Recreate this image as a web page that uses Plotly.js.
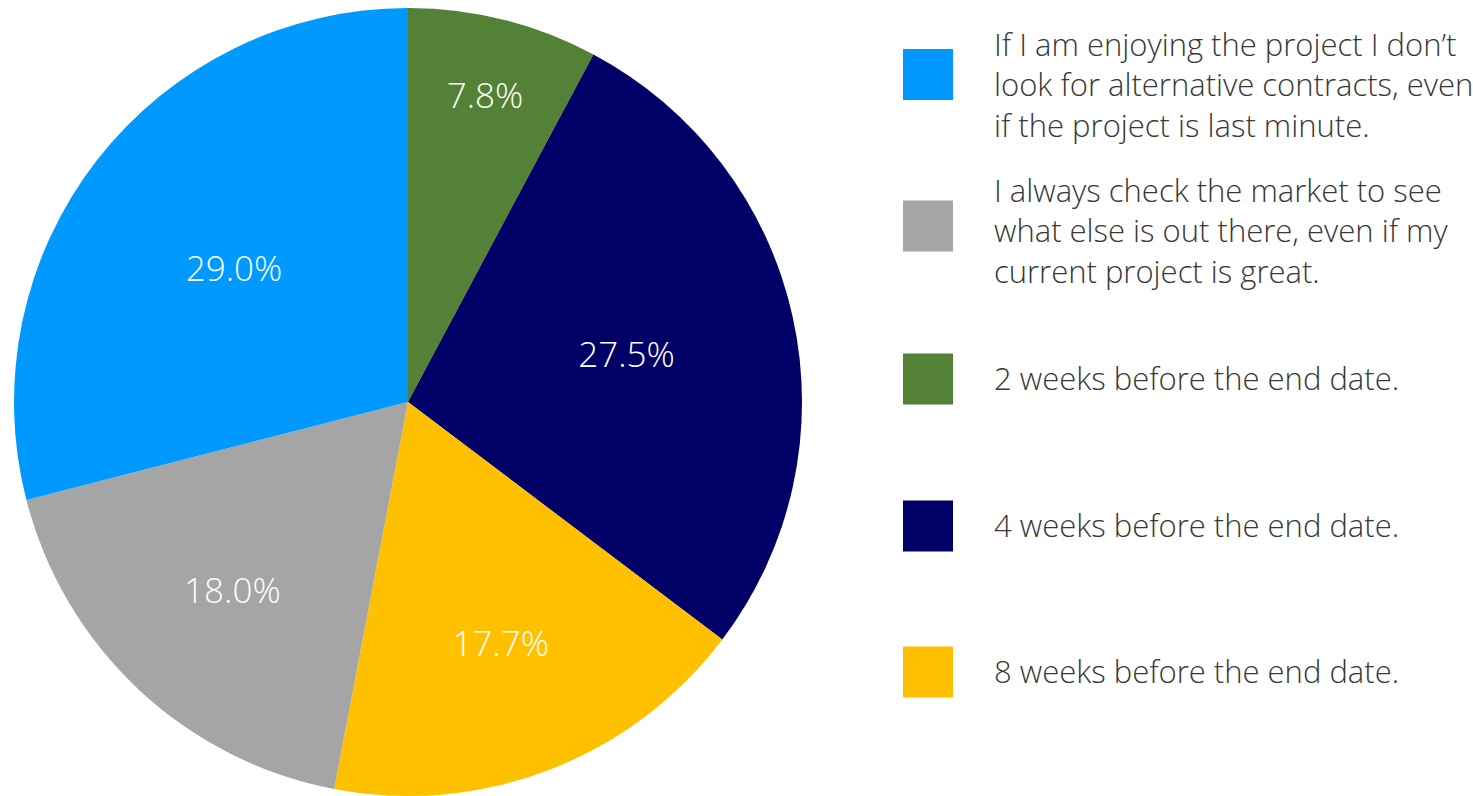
<!DOCTYPE html>
<html>
<head>
<meta charset="utf-8">
<script src="https://cdn.plot.ly/plotly-3.0.1.min.js"></script>
<style>
html,body{margin:0;padding:0;background:#fff;}
#chart{width:1473px;height:796px;}
</style>
</head>
<body>
<div id="chart"></div>
<script>
// Data (pie order, clockwise from 12 o'clock)
const pieLabels = [
  "2 weeks before the end date.",
  "4 weeks before the end date.",
  "8 weeks before the end date.",
  "I always check the market to see what else is out there, even if my current project is great.",
  "If I am enjoying the project I don’t look for alternative contracts, even if the project is last minute."
];
const pieValues = [7.8, 27.5, 17.7, 18.0, 29.0];
const pieColors = ["#538135", "#000066", "#FFC000", "#A5A5A5", "#0099FF"];

// Legend order (indices into the pie arrays, as shown in the reference)
const legendOrder = [4, 3, 0, 1, 2];
const legendText = [
  "2 weeks before the end date.",
  "4 weeks before the end date.",
  "8 weeks before the end date.",
  "I always check the market to see<br>what else is out there, even if my<br>current project is great.",
  "If I am enjoying the project I don’t<br>look for alternative contracts, even<br>if the project is last minute."
];

const W = 1473, H = 796;
const ML = 13, MT = 8;
const PW = W - ML, PH = H - MT;
const px2x = p => (p - ML) / PW;
const px2y = p => 1 - (p - MT) / PH;
const legendBoxCentersPx = [74.5, 226, 379, 526, 672];
const legendTextCentersPx = [85, 231, 378, 525, 671];

const shapes = [];
const annotations = [];
legendOrder.forEach((idx, i) => {
  const cy = legendBoxCentersPx[i];
  shapes.push({
    type: 'rect', xref: 'paper', yref: 'paper',
    x0: px2x(903), x1: px2x(953),
    y0: px2y(cy + 25.5), y1: px2y(cy - 25.5),
    fillcolor: pieColors[idx], line: {width: 0}
  });
  annotations.push({
    xref: 'paper', yref: 'paper',
    x: px2x(992), y: px2y(legendTextCentersPx[i]),
    xanchor: 'left', yanchor: 'middle', align: 'left',
    text: legendText[idx], showarrow: false,
    font: {family: 'Open Sans', size: 31, color: '#383838', weight: 300}
  });
});

const trace = {
  type: 'pie',
  labels: pieLabels,
  values: pieValues,
  sort: false,
  direction: 'clockwise',
  rotation: 0,
  marker: {colors: pieColors, line: {width: 0}},
  texttemplate: '%{value:.1f}%',
  textposition: 'inside',
  insidetextorientation: 'horizontal',
  textfont: {family: 'Open Sans', size: 35, color: '#ffffff', weight: 300},
  hoverinfo: 'label+value',
  showlegend: false,
  domain: {x: [0, 790 / PW], y: [0, 1]}
};

const layout = {
  width: W, height: H,
  margin: {l: ML, r: 0, t: MT, b: 0},
  paper_bgcolor: '#ffffff',
  plot_bgcolor: '#ffffff',
  showlegend: false,
  shapes: shapes,
  annotations: annotations
};

Plotly.newPlot('chart', [trace], layout, {displayModeBar: false, staticPlot: true});
</script>
</body>
</html>
